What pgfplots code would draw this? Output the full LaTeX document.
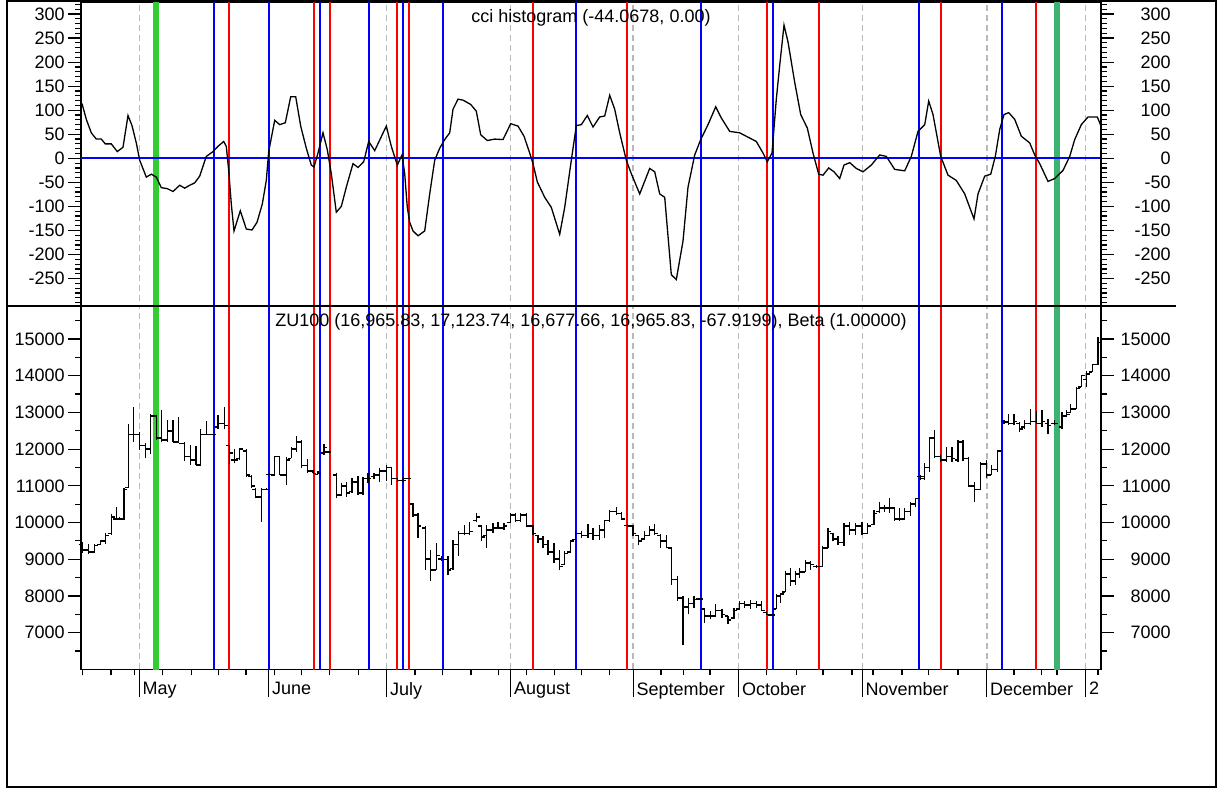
\documentclass[border=0pt]{standalone}
\usepackage{fontspec}
\setmainfont{Liberation Sans}
\usepackage{pgfplots}
\usepackage{pgfplotstable}
\pgfplotsset{compat=1.18}
\definecolor{gA}{RGB}{50,205,50}
\definecolor{gB}{RGB}{60,179,113}
\definecolor{dgray}{RGB}{185,185,185}
\definecolor{vblue}{RGB}{0,0,255}
\definecolor{vred}{RGB}{255,0,0}
\pgfdeclareplotmark{ohlcO}{\pgfpathmoveto{\pgfqpoint{-1.7pt}{0pt}}\pgfpathlineto{\pgfqpoint{0pt}{0pt}}\pgfusepathqstroke}
\pgfdeclareplotmark{ohlcC}{\pgfpathmoveto{\pgfqpoint{0pt}{0pt}}\pgfpathlineto{\pgfqpoint{1.7pt}{0pt}}\pgfusepathqstroke}
\newcommand\fs{\fontsize{9}{10}\selectfont}

\pgfplotstableread{
x v
82 114
86.3 81
91.3 53
96.3 40
101.3 40
105.3 30
111.3 30
117.3 14
123 23
128 89
132 68
136.3 32
139.7 -4
146.3 -39
151.3 -33
156.3 -39
161.3 -61
167.3 -63
173 -69
179.7 -56
184.7 -62
189.7 -56
194.7 -51
199.7 -37
206.3 4
213 14
218 25
223.7 35
226.3 25
228.7 -25
231.3 -95
234 -151
240.3 -109
246.3 -147
252 -149
257 -133
262.3 -95
266.3 -46
268.7 14
274.7 79
279.7 70
285.3 74
290.7 128
295.7 128
300.7 67
306.3 21
311.3 -14
314 -18
318 11
323 53
327.3 18
331.3 -32
336.3 -112
341.3 -100
346.3 -60
353 -11
358 -19
363.7 -7
368.7 35
374.7 16
386.3 67
391.3 25
397.3 -14
402 7
404.7 -32
407.3 -102
409.7 -133
413 -151
418 -161
424.7 -151
429.7 -74
434.7 -4
439.7 21
444.7 39
449.7 53
453 102
458 123
463 121
470.7 112
476.3 98
480.7 49
487.3 37
494.7 40
503 39
510.7 72
518 67
524 46
529.7 11
533 -11
537.3 -49
544.7 -81
551.3 -102
559.7 -158
564.7 -102
571.3 -4
576.3 68
581.3 70
587.3 89
593 65
599.7 86
604.7 88
609.7 131
614.7 102
619.7 53
626.3 -4
631.3 -32
639.7 -74
649.7 -21
654.7 -28
659.7 -74
664.7 -81
671.3 -242
676.3 -252
683 -172
688 -60
694.7 7
700.7 39
708 70
715.7 107
721.3 84
729.7 56
739.7 53
748 44
756.3 35
763 11
767.3 -7
772 11
776.3 123
779.7 193
784 277
788 242
794.7 158
800.7 91
807.3 63
813 11
818.7 -33
823 -35
828.7 -20
834 -28
839.7 -42
844 -14
849.7 -9
856.3 -21
863 -28
871.3 -14
879.7 7
886.3 4
894.7 -23
904.7 -26
911.3 4
918 56
924.7 70
928.7 119
933 91
940.7 4
948 -35
956.3 -46
964.7 -74
969.7 -102
974 -126
978 -74
984.7 -37
990.7 -33
995.3 4
999.7 60
1004 91
1008.7 95
1014.7 81
1021.3 46
1029.7 32
1034.7 7
1039.7 -11
1048 -48
1054.7 -42
1063 -25
1069.7 4
1074.7 39
1081.3 70
1088 86
1097.3 86
1101 67
}\cci

\pgfplotstableread{
x o h l c
82 9400 9467 9169 9250
88.7 9250 9413 9142 9200
94.5 9200 9420 9180 9380
100.7 9400 9531 9400 9500
105.3 9500 9711 9413 9650
111.3 9700 10227 9666 10150
116.3 10100 10435 10073 10100
119.7 10100 10150 10080 10100
124 10100 10950 10073 10900
128.7 10950 12695 10932 12400
133.7 12400 13147 12198 12400
139.7 12400 12469 11972 12100
145.5 12100 12180 11746 12000
150.7 12000 12966 11881 12900
156.3 12900 12921 12243 12300
161.3 12300 13056 12198 12250
167.3 12250 12785 12198 12500
173 12500 12785 12198 12200
178.7 12200 12876 12198 12150
184.7 12150 12198 11673 11800
190.5 11800 12106 11565 11700
196 11700 12089 11565 11565
200.7 11565 12559 11565 12400
206.3 12400 12758 12378 12400
212.3 12400 12424 12378 12400
218 12600 12921 12559 12700
224.7 12700 13147 12541 12650
229.7 12100 12125 11583 11900
234.7 11700 12017 11610 11700
239.7 11750 12035 11700 12000
246.3 11950 12017 11248 11300
251.3 11250 11294 10932 11000
255.3 10900 10932 10661 10700
261.3 10700 10950 10028 10900
266.3 10900 10950 10887 10900
269.7 11312 11350 11300 11312
274.7 11300 11818 11294 11800
279.7 11800 11818 11294 11300
286.3 11300 11791 11022 11700
291.3 11750 12062 11746 12000
296.3 12000 12360 11926 12200
301.3 12200 12243 11474 11550
307.3 11550 11728 11339 11400
313 11400 11429 11339 11339
318 11312 11400 11312 11330
324 11900 12152 11836 12050
328 11926 11950 11900 11926
336.3 11300 11339 10661 10750
341.3 10750 11068 10733 11000
346.3 11000 11113 10706 10800
352 10850 11203 10800 11100
358 11100 11276 10751 10800
363 10800 11248 10751 11200
368 11200 11339 11068 11200
374 11250 11339 11185 11300
379.7 11300 11474 11113 11400
386.3 11400 11565 11131 11500
391.3 11500 11520 11022 11200
397.3 11200 11203 11113 11150
403 11150 11203 11113 11150
407.3 11203 11220 11200 11203
413 10500 10525 10164 10200
418 10200 10254 9576 9900
425.3 9850 9892 8718 9000
430.7 9000 9260 8401 8700
436.3 8700 9440 8700 9100
441.3 9000 9100 8943 8990
448 8990 9079 8582 8700
453 8750 9531 8718 9400
458.7 9400 9757 9079 9700
464.7 9700 9938 9648 9700
469.7 9700 10028 9648 9750
476.3 10050 10254 10028 10150
481.3 9900 9938 9486 9600
486.3 9650 9938 9305 9800
493 9800 9983 9711 9850
498 9850 10028 9829 9850
504 9850 9983 9802 9900
510.7 10000 10254 9983 10200
515.3 10200 10254 10028 10050
520.7 10050 10254 10028 10200
526.3 10200 10254 9865 9900
533 9900 9938 9666 9700
538 9650 9666 9440 9550
543 9550 9621 9305 9400
548 9400 9531 9106 9200
554 9200 9440 8898 9000
559.7 9000 9260 8718 8800
564.7 8850 9214 8850 9150
570.7 9200 9531 9169 9500
575.3 9531 9757 9531 9700
581.3 9700 9775 9576 9650
588 9650 9956 9576 9700
593 9700 9847 9531 9650
599.7 9650 9938 9531 9800
604.7 9800 10073 9576 10050
609.7 10050 10344 10028 10300
616.3 10300 10435 10209 10250
621.3 10250 10299 10073 10100
627.3 9920 9950 9892 9900
633 9900 9938 9621 9700
638.7 9650 9666 9377 9500
644.7 9550 9775 9550 9650
649.7 9650 9892 9621 9800
654.7 9800 9956 9666 9700
660.7 9650 9684 9305 9500
666.3 9500 9666 9305 9320
671.3 9300 9323 8310 8450
677.3 8450 8536 7858 7950
683 7950 7994 6665 7700
688.7 7700 7949 7497 7800
694 7800 7994 7678 7900
699.7 7920 7949 7904 7920
704.7 7650 7678 7271 7450
710.7 7450 7587 7361 7450
715.7 7450 7768 7440 7600
722 7600 7632 7406 7500
728 7450 7452 7226 7350
734 7400 7678 7361 7600
739.7 7650 7858 7632 7800
744.7 7800 7858 7678 7750
750.7 7750 7876 7632 7800
756.3 7800 7858 7678 7750
761.3 7750 7858 7587 7600
766.3 7550 7587 7497 7500
771.3 7480 7500 7470 7480
776.3 7650 8039 7632 8000
780.7 8000 8084 7813 8050
785.3 8100 8672 8100 8600
790.3 8600 8762 8265 8400
795.3 8400 8672 8310 8600
799.7 8600 8762 8491 8650
805.3 8650 8988 8650 8900
810.7 8900 8943 8717 8850
816.3 8800 8853 8762 8800
822.3 8800 9350 8790 9300
828 9300 9847 9300 9750
833 9700 9711 9486 9550
838 9550 9621 9395 9450
844 9450 9983 9350 9900
849.7 9900 10028 9666 9800
855.3 9800 9983 9666 9900
862 9900 10028 9648 9700
867.3 9700 9983 9690 9900
874 9950 10344 9938 10250
879.7 10300 10570 10254 10400
884.7 10400 10480 10299 10400
889.7 10400 10661 10254 10400
894.7 10400 10435 10046 10100
899.7 10100 10390 10046 10100
904.7 10100 10408 10073 10300
910.7 10300 10570 10191 10500
915.3 10500 10679 10435 10650
920.7 11250 11294 11158 11250
924.7 11200 11610 11158 11500
929.7 11500 12333 11384 12300
934.7 12300 12514 11746 11800
940.7 11800 11836 11655 11700
946.3 11700 12062 11655 11800
952 11800 12062 11655 11750
958 11700 12243 11655 12200
963 12200 12243 11673 11750
968.7 11750 11791 10977 11000
974.7 11000 11113 10570 10900
980.7 10900 11655 10887 11600
986.3 11600 11700 11203 11300
991.3 11300 11565 11294 11450
997.3 11450 11972 11384 11950
1004 12750 12785 12695 12740
1008.7 12740 12966 12650 12700
1014 12700 12966 12650 12750
1019.7 12700 12740 12469 12550
1024.7 12600 12785 12559 12700
1030.7 12700 13084 12668 12750
1036.3 12750 13029 12695 12700
1042 12700 13056 12604 12750
1048 12700 12830 12424 12650
1054.7 12700 12785 12650 12700
1062 12600 13011 12559 12900
1066.3 12900 13056 12876 12950
1070.7 13000 13237 13000 13100
1076.3 13100 13689 13100 13650
1081.3 13700 14006 13689 14000
1086.3 13900 14141 13689 14050
1092.3 14100 14322 14096 14300
1098 14300 15045 14300 14900
}\ohlc

\newcommand\vlines[2]{%
  \pgfplotsinvokeforeach{139.3,386.3,510.7,633,738.7,862.3,987,1085.7}{\addplot[dgray, line width=0.6pt, dash pattern=on 3pt off 2pt] coordinates {(##1,#1) (##1,#2)};}
  \addplot[gA, line width=3pt] coordinates {(156.3,#1) (156.3,#2)};
  \addplot[gB, line width=3pt] coordinates {(1056.8,#1) (1056.8,#2)};
  \pgfplotsinvokeforeach{213.7,268.7,320.3,369,403.3,443,576.3,700.7,773,919,1002.3}{\addplot[vblue, line width=0.85pt] coordinates {(##1,#1) (##1,#2)};}
  \pgfplotsinvokeforeach{229,314,329.7,397.3,408.7,533,627,767,818.7,940.7,1035.7}{\addplot[vred, line width=0.85pt] coordinates {(##1,#1) (##1,#2)};}
}

\pgfplotsset{
  panel/.style={scale only axis, width=510pt, xmin=81, xmax=1101,
    anchor=south west, axis line style={line width=0.8pt},
    tick align=outside, major tick length=6.5pt, minor tick length=3pt,
    tick style={black, line width=0.6pt},
    tick label style={font=\fs, inner sep=1.5pt},
    scaled y ticks=false,
    clip=true},
}

\begin{document}
\begin{tikzpicture}[x=0.5pt,y=0.5pt]
\useasboundingbox (0,0) rectangle (1219,789);

% ---- top panel: CCI ----
\begin{axis}[panel, at={(40.5pt,241.5pt)}, height=152pt, ymin=-307, ymax=325,
  xtick=\empty, ytick pos=left,
  ytick={-250,-200,-150,-100,-50,0,50,100,150,200,250,300},
  yticklabels={-250,-200,-150,-100,-50,0,50,100,150,200,250,300},
  minor ytick={-300,-290,...,320}]
\vlines{-400}{400}
\addplot[vblue, line width=1pt] coordinates {(81,0) (1101,0)};
\addplot[black, line width=0.65pt] table[x=x, y=v] {\cci};
\end{axis}
\begin{axis}[panel, at={(40.5pt,241.5pt)}, height=152pt, ymin=-307, ymax=325,
  hide x axis, axis y line*=right, tick align=outside,
  ytick={-250,-200,-150,-100,-50,0,50,100,150,200,250,300},
  yticklabels={-250,-200,-150,-100,-50,0,50,100,150,200,250,300},
  minor ytick={-300,-290,...,320},
  yticklabel style={anchor=east, xshift=30pt}]
\end{axis}

% ---- bottom panel: OHLC ----
\begin{axis}[panel, at={(40.5pt,59.85pt)}, height=181.65pt, ymin=6000, ymax=15900,
  xtick pos=bottom, ytick pos=left,
  xtick={139.3,268.7,386.7,510.7,633.3,738.7,862.3,986.7,1085.7},
  xticklabels={May,June,July,August,September,October,November,December,2},
  minor xtick={82.7,111,134.3,162.3,191.7,218.3,246,274.7,301.7,329.3,358.3,415,442.7,471,498.3,526.7,554.3,581.7,609.3,661,683.3,710,766.7,796.7,823,852,873,902,928.7,958,1014,1041.3,1057,1098},
  xtick style={/pgfplots/major tick length=14pt},
  xticklabel style={anchor=north west, xshift=0pt, yshift=1.8pt},
  ytick={7000,8000,9000,10000,11000,12000,13000,14000,15000},
  yticklabels={7000,8000,9000,10000,11000,12000,13000,14000,15000},
  minor ytick={6500,7500,...,15500}]
\vlines{0}{20000}
\addplot[draw=none, mark=none, error bars/.cd, y dir=plus, y explicit, error mark=none,
  error bar style={draw=black, solid, line width=0.75pt}]
  table[x=x, y=l, y error expr=\thisrow{h}-\thisrow{l}] {\ohlc};
\addplot[only marks, mark=ohlcO, mark options={black, line width=0.75pt}] table[x=x, y=o] {\ohlc};
\addplot[only marks, mark=ohlcC, mark options={black, line width=0.75pt}] table[x=x, y=c] {\ohlc};
\end{axis}
\begin{axis}[panel, at={(40.5pt,59.85pt)}, height=181.65pt, ymin=6000, ymax=15900,
  hide x axis, axis y line*=right, tick align=outside,
  ytick={7000,8000,9000,10000,11000,12000,13000,14000,15000},
  yticklabels={7000,8000,9000,10000,11000,12000,13000,14000,15000},
  minor ytick={6500,7500,...,15500},
  yticklabel style={anchor=east, xshift=30pt}]
\end{axis}

\node[font=\fs] at (591,771) {cci histogram (-44.0678, 0.00)};
\node[font=\fs] at (591,467.5) {ZU100 (16,965.83, 17,123.74, 16,677.66, 16,965.83, -67.9199), Beta (1.00000)};
\draw[line width=0.8pt] (6,483) -- (1176,483);
\draw[line width=1pt] (6.5,2) rectangle (1215.5,787.5);
\end{tikzpicture}
\end{document}
